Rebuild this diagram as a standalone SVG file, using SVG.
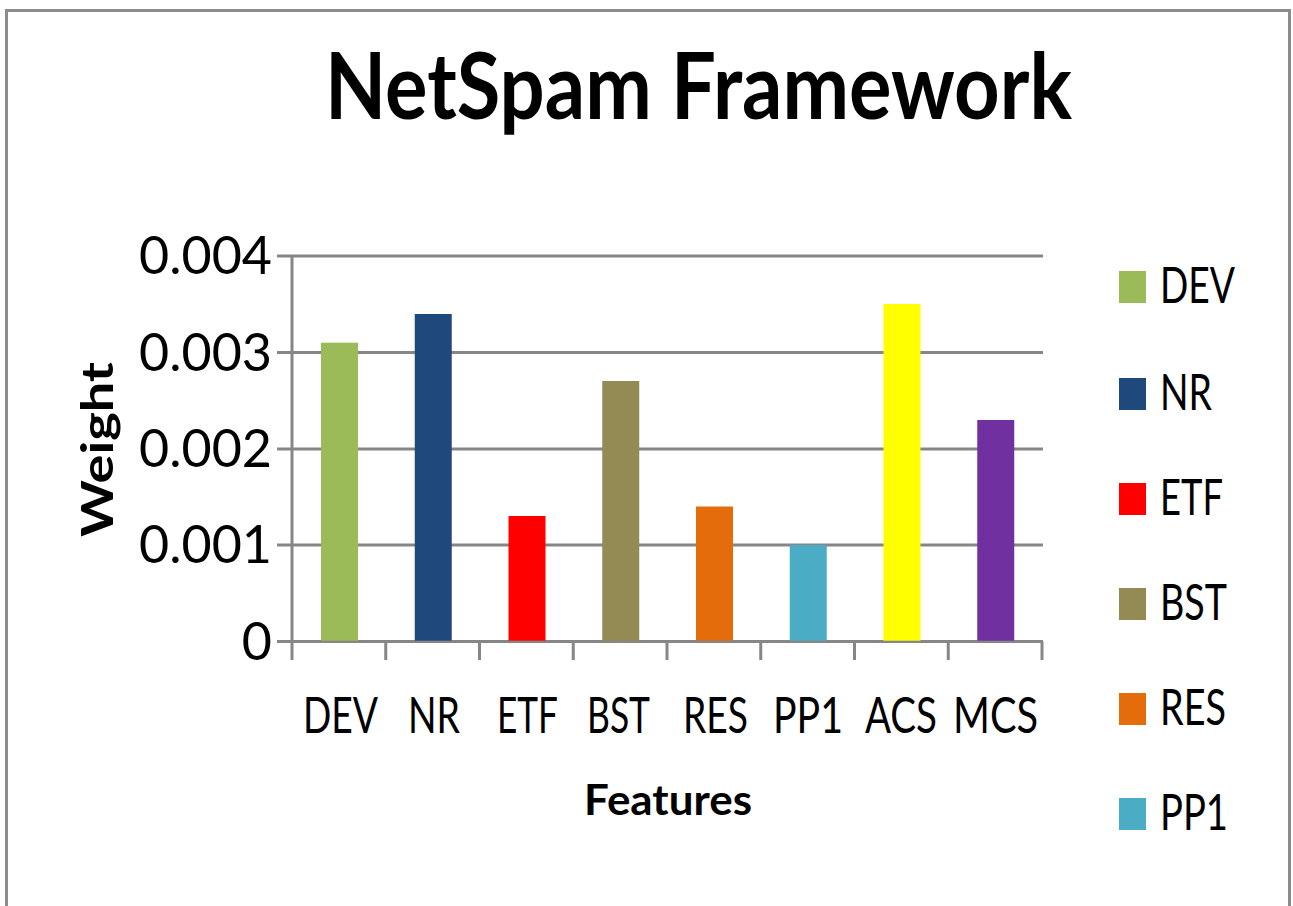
<svg xmlns="http://www.w3.org/2000/svg" width="1293" height="906" viewBox="0 0 1293 906">
<style>
.t{font-family:Lato,"Open Sans","Liberation Sans",sans-serif;fill:#000}
.ax{font-size:50px}
.yt{font-size:52px}
.grid{stroke:#868686;stroke-width:3}
</style>
<rect x="0" y="0" width="1293" height="906" fill="#fff"/>
<rect id="frame" x="6.5" y="10.5" width="1283" height="910" fill="none" stroke="#8c8c8c" stroke-width="3"/>
<g id="title"><text class="t" x="325" y="119" font-size="92" font-weight="bold" textLength="747" lengthAdjust="spacingAndGlyphs">NetSpam Framework</text></g>
<g id="grid">
<line class="grid" x1="277" y1="256" x2="1043" y2="256"/>
<line class="grid" x1="277" y1="352.5" x2="1043" y2="352.5"/>
<line class="grid" x1="277" y1="449" x2="1043" y2="449"/>
<line class="grid" x1="277" y1="545" x2="1043" y2="545"/>
<line class="grid" x1="292" y1="256" x2="292" y2="660"/>
<line class="grid" x1="277" y1="641.5" x2="1043" y2="641.5"/>
<line class="grid" x1="385.75" y1="641.5" x2="385.75" y2="660"/>
<line class="grid" x1="479.5" y1="641.5" x2="479.5" y2="660"/>
<line class="grid" x1="573.25" y1="641.5" x2="573.25" y2="660"/>
<line class="grid" x1="667" y1="641.5" x2="667" y2="660"/>
<line class="grid" x1="760.75" y1="641.5" x2="760.75" y2="660"/>
<line class="grid" x1="854.5" y1="641.5" x2="854.5" y2="660"/>
<line class="grid" x1="948.25" y1="641.5" x2="948.25" y2="660"/>
<line class="grid" x1="1042" y1="641.5" x2="1042" y2="660"/>
</g>
<g id="bars">
<rect x="321" y="342.7" width="37" height="298" fill="#9BBB59"/>
<rect x="414.75" y="314" width="37" height="326.7" fill="#1F497D"/>
<rect x="508.5" y="516" width="37" height="124.7" fill="#FF0000"/>
<rect x="602.25" y="381" width="37" height="259.7" fill="#948A54"/>
<rect x="696" y="506.5" width="37" height="134.2" fill="#E46C0A"/>
<rect x="789.75" y="545" width="37" height="95.7" fill="#4BACC6"/>
<rect x="883.5" y="304" width="37" height="336.7" fill="#FFFF00"/>
<rect x="977.25" y="420" width="37" height="220.7" fill="#7030A0"/>
</g>
<g id="yticks" text-anchor="end">
<text class="t yt" x="272" y="274">0.004</text>
<text class="t yt" x="272" y="370.5">0.003</text>
<text class="t yt" x="272" y="467">0.002</text>
<text class="t yt" x="272" y="563">0.001</text>
<text class="t yt" x="272" y="659.5">0</text>
</g>
<g id="xticks">
<text class="t ax" x="303" y="733" textLength="75" lengthAdjust="spacingAndGlyphs">DEV</text>
<text class="t ax" x="408" y="733" textLength="52" lengthAdjust="spacingAndGlyphs">NR</text>
<text class="t ax" x="497" y="733" textLength="61" lengthAdjust="spacingAndGlyphs">ETF</text>
<text class="t ax" x="587" y="733" textLength="63" lengthAdjust="spacingAndGlyphs">BST</text>
<text class="t ax" x="683" y="733" textLength="65" lengthAdjust="spacingAndGlyphs">RES</text>
<text class="t ax" x="773" y="733" textLength="70" lengthAdjust="spacingAndGlyphs">PP1</text>
<text class="t ax" x="865" y="733" textLength="72" lengthAdjust="spacingAndGlyphs">ACS</text>
<text class="t ax" x="953" y="733" textLength="85" lengthAdjust="spacingAndGlyphs">MCS</text>
</g>
<g id="xlabel"><text class="t" x="584" y="815" font-size="42" font-weight="bold" textLength="168" lengthAdjust="spacingAndGlyphs">Features</text></g>
<g id="ylabel"><text class="t" transform="translate(113,537) rotate(-90)" x="0" y="0" font-size="44" font-weight="bold" textLength="175" lengthAdjust="spacingAndGlyphs">Weight</text></g>
<g id="legend">
<rect x="1119" y="271" width="27" height="32" fill="#9BBB59"/>
<text class="t ax" x="1160" y="303" textLength="75" lengthAdjust="spacingAndGlyphs">DEV</text>
<rect x="1119" y="378" width="27" height="32" fill="#1F497D"/>
<text class="t ax" x="1160" y="410" textLength="52" lengthAdjust="spacingAndGlyphs">NR</text>
<rect x="1119" y="483" width="27" height="32" fill="#FF0000"/>
<text class="t ax" x="1160" y="515" textLength="63" lengthAdjust="spacingAndGlyphs">ETF</text>
<rect x="1119" y="588" width="27" height="32" fill="#948A54"/>
<text class="t ax" x="1160" y="620" textLength="67" lengthAdjust="spacingAndGlyphs">BST</text>
<rect x="1119" y="693" width="27" height="32" fill="#E46C0A"/>
<text class="t ax" x="1160" y="725" textLength="66" lengthAdjust="spacingAndGlyphs">RES</text>
<rect x="1119" y="798" width="27" height="32" fill="#4BACC6"/>
<text class="t ax" x="1160" y="830" textLength="68" lengthAdjust="spacingAndGlyphs">PP1</text>
</g>
</svg>
